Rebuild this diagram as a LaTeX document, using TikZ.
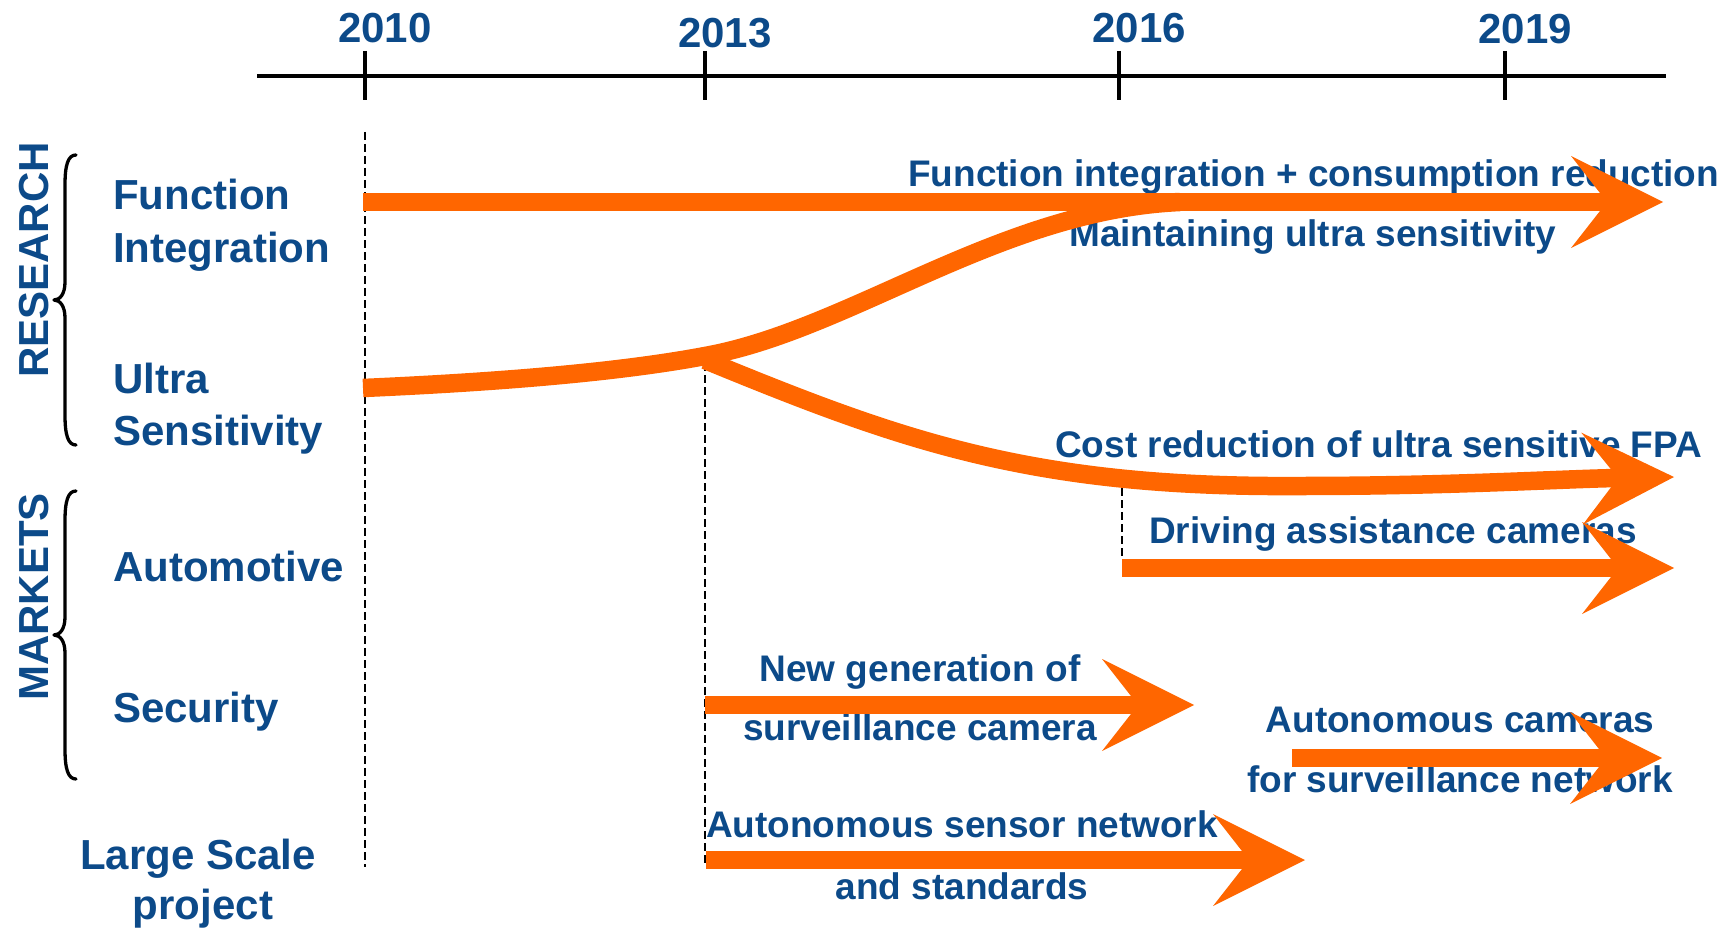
\documentclass[tikz,border=0pt]{standalone}
\usepackage{fontspec}
\setmainfont{Liberation Sans}
\usetikzlibrary{arrows.meta}
\definecolor{orng}{RGB}{255,102,0}
\definecolor{navy}{RGB}{12,74,137}
\begin{document}
\begin{tikzpicture}[x=1pt,y=-1pt,
  big/.style={font=\fontsize{42}{50}\selectfont\bfseries, text=navy, inner sep=0pt},
  small/.style={font=\fontsize{37}{44}\selectfont\bfseries, text=navy, inner sep=0pt},
  flow/.style={draw=orng, line width=18.5pt, -{Stealth[length=92pt,width=92pt,inset=36pt,line width=0pt]}},
  band/.style={draw=orng, line width=18.5pt},
  guide/.style={draw=black, line width=1.3pt, dash pattern=on 8pt off 4pt},
  axisline/.style={draw=black, line width=4.5pt},
  bracestyle/.style={draw=black, line width=3.3pt, line cap=round, line join=round}
]
\useasboundingbox (0,0) rectangle (1731,928);

% ---------- time axis ----------
\coordinate (axL) at (257,76);
\coordinate (axR) at (1666,76);
\draw[axisline] (axL) -- (axR);
\foreach \n/\x in {a/365,b/705,c/1119,d/1505}{
  \coordinate (t\n top) at (\x,51);
  \coordinate (t\n bot) at (\x,100);
  \draw[axisline] (t\n top) -- (t\n bot);
}
\node[big, anchor=base] (y2010) at (385,43) {2010};
\node[big, anchor=base] (y2013) at (725,48) {2013};
\node[big, anchor=base] (y2016) at (1139,43) {2016};
\node[big, anchor=base] (y2019) at (1525,44) {2019};

% ---------- dashed guides ----------
\coordinate (g1s) at (365,132);  \coordinate (g1e) at (365,867);
\coordinate (g2s) at (705,363);  \coordinate (g2e) at (705,864);
\coordinate (g3s) at (1122,488); \coordinate (g3e) at (1122,559);
\draw[guide] (g1s) -- (g1e);
\draw[guide] (g2s) -- (g2e);
\draw[guide] (g3s) -- (g3e);

% ---------- left labels ----------
\node[big, rotate=90] (research) at (34,260) {RESEARCH};
\node[big, rotate=90] (markets) at (34,597) {MARKETS};
\foreach \t/\m/\b in {155/300/445, 491/635/779}{
  \draw[bracestyle] (76,\t) .. controls (68,\t) and (65,\t+10) .. (65,\t+30)
    -- (65,\m-18) .. controls (65,\m-6) and (60,\m) .. (54,\m)
    .. controls (60,\m) and (65,\m+6) .. (65,\m+18)
    -- (65,\b-30) .. controls (65,\b-10) and (68,\b) .. (76,\b);
}

\node[big, anchor=base west] (fi1) at (113,210) {Function};
\node[big, anchor=base west] (fi2) at (113,262) {Integration};
\node[big, anchor=base west] (us1) at (113,393) {Ultra};
\node[big, anchor=base west] (us2) at (113,445) {Sensitivity};
\node[big, anchor=base west] (auto) at (113,581) {Automotive};
\node[big, anchor=base west] (secu) at (113,722) {Security};
\node[big, anchor=base] (ls1) at (198,869) {Large Scale};
\node[big, anchor=base] (ls2) at (203,919) {project};

% ---------- arrow labels ----------
\node[small, anchor=base west] (l1) at (908,187) {Function integration + consumption reduction};
\node[small, anchor=base west] (l2) at (1069,246) {Maintaining ultra sensitivity};
\node[small, anchor=base west] (l3) at (1055,457) {Cost reduction of ultra sensitive FPA};
\node[small, anchor=base west] (l4) at (1149,543) {Driving assistance cameras};
\node[small, anchor=base] (l5a) at (920,681) {New generation of};
\node[small, anchor=base] (l5b) at (920,740) {surveillance camera};
\node[small, anchor=base] (l6a) at (1460,732) {Autonomous cameras};
\node[small, anchor=base] (l6b) at (1460,792) {for surveillance network};
\node[small, anchor=base] (l7a) at (962,837) {Autonomous sensor network};
\node[small, anchor=base] (l7b) at (962,899) {and standards};

% ---------- orange flows ----------
\coordinate (fiS) at (363,202);  \coordinate (fiE) at (1663,202);
\coordinate (usS) at (363,388);
\coordinate (fork) at (705,356);
\coordinate (forkB) at (705,360);
\coordinate (merge) at (1180,202);
\coordinate (low) at (1300,486);
\coordinate (costE) at (1674,477);
\coordinate (drS) at (1122,568); \coordinate (drE) at (1674,568);
\coordinate (seS) at (705,705);  \coordinate (seE) at (1194,705);
\coordinate (acS) at (1292,758); \coordinate (acE) at (1662,758);
\coordinate (snS) at (706,860);  \coordinate (snE) at (1305,860);

\draw[band, line join=round] (usS) .. controls (500,382) and (620,372) .. (fork)
  .. controls (850,330) and (1000,210) .. (merge);
\draw[flow] (fiS) -- (fiE);
\draw[flow] (forkB) .. controls (900,440) and (1030,488) .. (low)
  .. controls (1450,486) and (1560,479) .. (costE);
\draw[flow] (drS) -- (drE);
\draw[flow] (seS) -- (seE);
\draw[flow] (acS) -- (acE);
\draw[flow] (snS) -- (snE);
\end{tikzpicture}
\end{document}
